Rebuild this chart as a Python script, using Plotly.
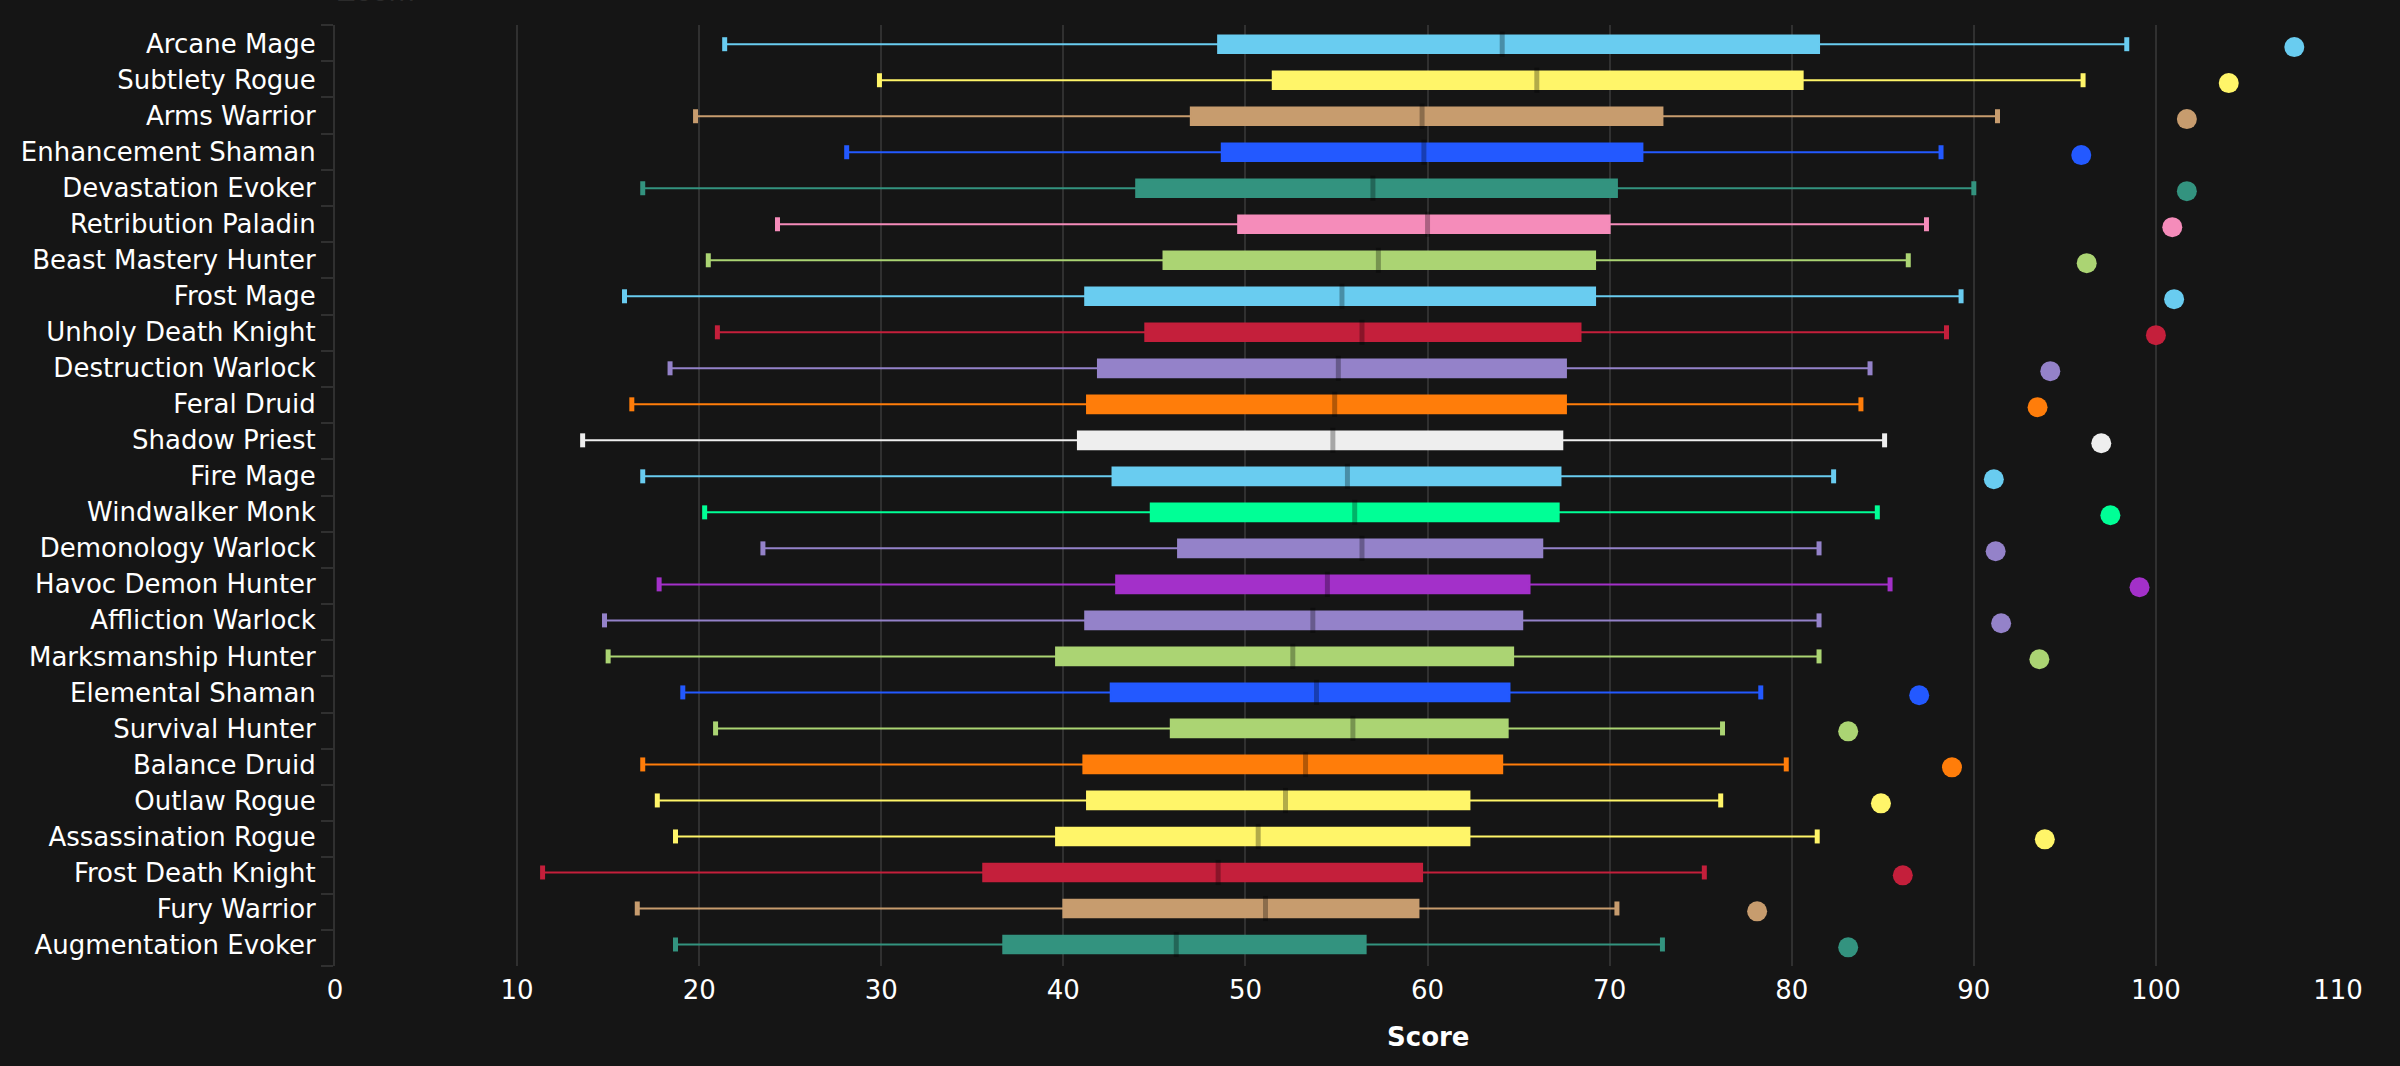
import plotly.graph_objects as go

categories = ["Arcane Mage","Subtlety Rogue","Arms Warrior","Enhancement Shaman","Devastation Evoker",
 "Retribution Paladin","Beast Mastery Hunter","Frost Mage","Unholy Death Knight","Destruction Warlock",
 "Feral Druid","Shadow Priest","Fire Mage","Windwalker Monk","Demonology Warlock","Havoc Demon Hunter",
 "Affliction Warlock","Marksmanship Hunter","Elemental Shaman","Survival Hunter","Balance Druid",
 "Outlaw Rogue","Assassination Rogue","Frost Death Knight","Fury Warrior","Augmentation Evoker"]
low    = [21.4,29.9,19.8,28.1,16.9,24.3,20.5,15.9,21.0,18.4,16.3,13.6,16.9,20.3,23.5,17.8,14.8,15.0,19.1,20.9,16.9,17.7,18.7,11.4,16.6,18.7]
q1     = [48.5,51.5,47.0,48.7,44.0,49.6,45.5,41.2,44.5,41.9,41.3,40.8,42.7,44.8,46.3,42.9,41.2,39.6,42.6,45.9,41.1,41.3,39.6,35.6,40.0,36.7]
median = [64.1,66.0,59.7,59.8,57.0,60.0,57.3,55.3,56.4,55.1,54.9,54.8,55.6,56.0,56.4,54.5,53.7,52.6,53.9,55.9,53.3,52.2,50.7,48.5,51.1,46.2]
q3     = [81.5,80.6,72.9,71.8,70.4,70.0,69.2,69.2,68.4,67.6,67.6,67.4,67.3,67.2,66.3,65.6,65.2,64.7,64.5,64.4,64.1,62.3,62.3,59.7,59.5,56.6]
high   = [98.4,96.0,91.3,88.2,90.0,87.4,86.4,89.3,88.5,84.3,83.8,85.1,82.3,84.7,81.5,85.4,81.5,81.5,78.3,76.2,79.7,76.1,81.4,75.2,70.4,72.9]
peak   = [107.6,104.0,101.7,95.9,101.7,100.9,96.2,101.0,100.0,94.2,93.5,97.0,91.1,97.5,91.2,99.1,91.5,93.6,87.0,83.1,88.8,84.9,93.9,86.1,78.1,83.1]
colors = ["#69CCF0","#FFF569","#C79C6E","#2359FF","#33937F","#F58CBA","#ABD473","#69CCF0","#C41F3B","#9482C9",
 "#FF7D0A","#EEEEEE","#69CCF0","#00FF96","#9482C9","#A330C9","#9482C9","#ABD473","#2359FF","#ABD473",
 "#FF7D0A","#FFF569","#FFF569","#C41F3B","#C79C6E","#33937F"]
x_ticks = list(range(0, 111, 10))
x_title = "Score"
x_title_at = 60

BG = "#151515"
GRID = "#303030"
FONT = "DejaVu Sans"
PLOT_H = 940.7
ROW = 36.0
TOP_PAD = 19.2 / ROW
rows = list(range(len(categories)))
y_range = [PLOT_H / ROW - TOP_PAD, -TOP_PAD]
boundaries = [-TOP_PAD + k * (PLOT_H / len(categories)) / ROW for k in range(len(categories) + 1)]

fig = go.Figure()
for i, c in enumerate(colors):
    fig.add_trace(go.Box(y=[i], q1=[q1[i]], median=[median[i]], q3=[q3[i]],
                         lowerfence=[low[i]], upperfence=[high[i]], orientation="h",
                         fillcolor=c, line=dict(color=c, width=2), width=0.49,
                         whiskerwidth=0, boxpoints=False, showlegend=False, name=categories[i]))

fig.add_trace(go.Scatter(x=low + high, y=rows + rows, mode="markers", showlegend=False, hoverinfo="skip",
                         marker=dict(symbol="line-ns", size=10, color=colors + colors,
                                     line=dict(color=colors + colors, width=5))))
fig.add_trace(go.Scatter(x=median, y=rows, mode="markers", showlegend=False, hoverinfo="skip",
                         marker=dict(symbol="line-ns", size=18, color="rgba(0,0,0,0.3)",
                                     line=dict(color="rgba(0,0,0,0.3)", width=5))))
fig.add_trace(go.Scatter(x=peak, y=[r + 0.08 for r in rows], mode="markers", showlegend=False,
                         text=categories, marker=dict(size=20, color=colors, line=dict(width=0))))

fig.add_annotation(text="Zoom", xref="paper", yref="paper", x=0, y=1, xanchor="left", yanchor="bottom",
                   yshift=16, showarrow=False, font=dict(family=FONT, size=27, color="#2b2b2b"))
fig.add_annotation(text="<b>" + x_title + "</b>", xref="x", yref="paper", x=x_title_at, y=-71 / PLOT_H,
                   xanchor="center", yanchor="middle", showarrow=False,
                   font=dict(family=FONT, size=26, color="#FFFFFF"))

fig.update_layout(
    width=2400, height=1066, paper_bgcolor=BG, plot_bgcolor=BG, boxmode="overlay",
    margin=dict(l=334.5, r=62, t=25.3, b=100, autoexpand=False),
    font=dict(family=FONT, color="#FFFFFF", size=26), showlegend=False,
    xaxis=dict(range=[0, 110], tickmode="array", tickvals=x_ticks, showgrid=True, gridcolor=GRID, gridwidth=2,
               zeroline=False, showline=False, ticks="outside", ticklen=1, tickcolor="rgba(0,0,0,0)",
               tickfont=dict(size=26, color="#FFFFFF")),
    yaxis=dict(range=y_range, tickmode="array", tickvals=rows, ticktext=categories, showgrid=False,
               zeroline=False, showline=True, linecolor=GRID, linewidth=2, ticks="outside", ticklen=12,
               tickcolor="rgba(0,0,0,0)", tickfont=dict(size=26, color="#FFFFFF"),
               minor=dict(tickmode="array", tickvals=boundaries, ticks="outside", ticklen=12,
                          tickcolor=GRID, tickwidth=2, showgrid=False)),
)

fig.write_html("out.html", config={"displayModeBar": False},
               post_script="document.body.style.margin='0';document.body.style.overflow='hidden';")
